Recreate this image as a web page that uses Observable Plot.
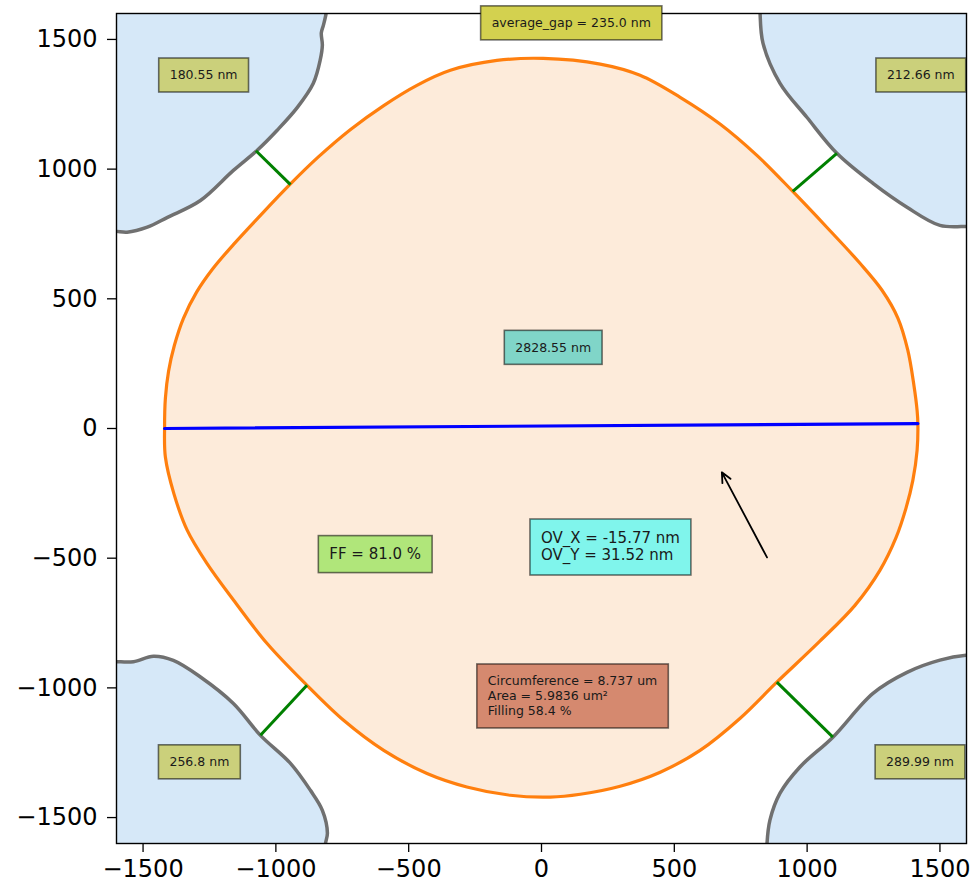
<!DOCTYPE html>
<html><head><meta charset="utf-8">
<script src="https://cdn.jsdelivr.net/npm/d3@7"></script>
<script src="https://cdn.jsdelivr.net/npm/@observablehq/plot@0.6"></script>
<style>body{margin:0;background:#fff} svg{display:block}</style>
</head><body><div id="chart"></div>
<script>
// ---- axes ----
const xDomain = [-1600, 1600];
const yDomain = [-1600, 1600];
const xTicks = [-1500, -1000, -500, 0, 500, 1000, 1500];
const yTicks = [-1500, -1000, -500, 0, 500, 1000, 1500];

// ---- central hole contour (nm) ----
const holeContour = [
  [6,1427],[-168,1419],[-343,1381],[-469,1323],[-594,1245],[-720,1152],[-840,1047],[-945,943],
  [-1058,822],[-1160,709],[-1239,614],[-1299,525],[-1348,425],[-1382,321],[-1404,221],[-1416,116],
  [-1419,5],[-1416,-110],[-1384,-251],[-1334,-392],[-1259,-521],[-1159,-662],[-1033,-829],
  [-883,-990],[-745,-1125],[-594,-1241],[-431,-1330],[-281,-1382],[-118,-1414],[33,-1421],
  [146,-1410],[296,-1379],[447,-1325],[597,-1241],[748,-1117],[886,-978],[1048,-820],[1180,-682],
  [1274,-547],[1335,-420],[1372,-308],[1398,-200],[1414,-84],[1417,16],[1414,70],[1402,167],
  [1379,302],[1342,425],[1282,533],[1199,637],[1074,776],[946,914],[811,1053],[672,1174],
  [522,1277],[371,1362],[221,1405]
];

// ---- neighbouring corner cells (nm) ----
const cellTopLeft = [
  [-811,1620],[-811,1601],[-821,1555],[-829,1525],[-825,1478],[-833,1421],[-859,1331],[-919,1238],
  [-995,1150],[-1070,1073],[-1160,995],[-1284,879],[-1408,814],[-1484,776],[-1560,757],
  [-1600,760],[-1620,760]
];
const cellTopRight = [
  [823,1620],[823,1600],[834,1485],[898,1331],[999,1200],[1112,1061],[1248,945],[1376,853],
  [1500,783],[1600,779],[1620,779]
];
const cellBottomLeft = [
  [-1620,-899],[-1600,-899],[-1536,-899],[-1461,-878],[-1386,-894],[-1284,-958],[-1160,-1060],
  [-1058,-1183],[-945,-1291],[-870,-1395],[-825,-1472],[-806,-1560],[-813,-1599],[-813,-1620]
];
const cellBottomRight = [
  [1620,-874],[1600,-874],[1500,-893],[1376,-940],[1248,-1021],[1097,-1190],[973,-1305],
  [898,-1406],[860,-1510],[849,-1600],[849,-1620]
];

// ---- gap segments (cell edge -> hole edge) ----
const gapX1 = [-1075, 1112, -1058, 1097];
const gapY1 = [1071, 1061, -1183, -1190];
const gapX2 = [-945, 946, -883, 886];
const gapY2 = [940, 914, -990, -978];

// ---- diameter line ----
const diamX = [-1419, 1417];
const diamY = [0, 19];

// ---- overlay arrow ----
const arrowX1 = [849], arrowY1 = [-497], arrowX2 = [679], arrowY2 = [-169];

// ---- labels ----
const smallLabels = ["average_gap = 235.0 nm", "180.55 nm", "212.66 nm", "256.8 nm", "289.99 nm", "2828.55 nm"];
const smallX = [112, -1272, 1428, -1288, 1425, 44];
const smallY = [1562, 1361, 1361, -1287, -1287, 311];
const smallBox = ["#d3d14f", "#cbd07b", "#cbd07b", "#cbd07b", "#cbd07b", "#80d5c8"];

const ffLabel = ["FF = 81.0 %"];
const ffX = [-626], ffY = [-485], ffBox = ["#b0e67a"];

const ovLabel = ["OV_X = -15.77 nm\nOV_Y = 31.52 nm"];
const ovX = [-2], ovY = [-452], ovBox = ["#80f5ec"];

const circLabel = ["Circumference = 8.737 um\nArea = 5.9836 um²\nFilling 58.4 %"];
const circX = [-202], circY = [-1030], circBox = ["#d5896f"];

// ---- build ----
const outerCorner = (pts) => {
  const mx = d3.mean(pts, d => d[0]), my = d3.mean(pts, d => d[1]);
  return [Math.sign(mx) * 1800, Math.sign(my) * 1800];
};
const cells = [cellTopLeft, cellTopRight, cellBottomLeft, cellBottomRight];
const px = d => d[0], py = d => d[1];
const FONT = "DejaVu Sans";

const marks = [];
for (const c of cells) {
  marks.push(Plot.line(c.concat([outerCorner(c)]), {x: px, y: py, curve: "catmull-rom", fill: "#d6e8f8", stroke: "none", clip: true}));
}
marks.push(Plot.line(holeContour, {x: px, y: py, curve: "catmull-rom-closed", fill: "#fdebda", stroke: "none", clip: true}));
for (const c of cells) {
  marks.push(Plot.line(c, {x: px, y: py, curve: "catmull-rom", stroke: "#707070", strokeWidth: 3.5, clip: true}));
}
marks.push(Plot.line(holeContour, {x: px, y: py, curve: "catmull-rom-closed", stroke: "#ff7f0e", strokeWidth: 3.2, clip: true}));
marks.push(Plot.link(gapX1, {x1: gapX1, y1: gapY1, x2: gapX2, y2: gapY2, stroke: "#008000", strokeWidth: 3, strokeLinecap: "butt"}));
marks.push(Plot.line(diamX, {x: diamX, y: diamY, stroke: "#0000ff", strokeWidth: 3.2}));
marks.push(Plot.arrow(arrowX1, {x1: arrowX1, y1: arrowY1, x2: arrowX2, y2: arrowY2, stroke: "black", strokeWidth: 1.8, headLength: 9, headAngle: 50}));
marks.push(Plot.frame({stroke: "black", strokeWidth: 1.4}));
marks.push(Plot.text(smallLabels, {x: smallX, y: smallY, text: d => d, fontFamily: FONT, fontSize: 12.5, fill: "#1a1a1a"}));
marks.push(Plot.text(ffLabel, {x: ffX, y: ffY, text: d => d, fontFamily: FONT, fontSize: 15, fill: "#1a1a1a"}));
marks.push(Plot.text(ovLabel, {x: ovX, y: ovY, text: d => d, fontFamily: FONT, fontSize: 15, lineHeight: 1.2, textAnchor: "start", fill: "#1a1a1a"}));
marks.push(Plot.text(circLabel, {x: circX, y: circY, text: d => d, fontFamily: FONT, fontSize: 12.5, lineHeight: 1.2, textAnchor: "start", fill: "#1a1a1a"}));

const chart = Plot.plot({
  width: 975,
  height: 884,
  marginLeft: 116,
  marginRight: 9,
  marginTop: 13,
  marginBottom: 41,
  style: {fontFamily: FONT, fontSize: "24px", color: "black", background: "white"},
  x: {domain: xDomain, ticks: xTicks, tickFormat: d3.format("d"), tickSize: 9, tickPadding: 7, label: null},
  y: {domain: yDomain, ticks: yTicks, tickFormat: d3.format("d"), tickSize: 9, tickPadding: 10, label: null},
  marks
});
document.getElementById("chart").append(chart);

// draw label boxes behind each label text
const boxSets = [smallBox, ffBox, ovBox, circBox];
const groups = chart.querySelectorAll('g[aria-label="text"]');
groups.forEach((g, gi) => {
  const fills = boxSets[gi] || [];
  g.querySelectorAll(":scope > text").forEach((t, i) => {
    const b = t.getBBox();
    const padX = 11, padY = 9.5;
    const r = document.createElementNS("http://www.w3.org/2000/svg", "rect");
    r.setAttribute("x", b.x - padX);
    r.setAttribute("y", b.y - padY);
    r.setAttribute("width", b.width + 2 * padX);
    r.setAttribute("height", b.height + 2 * padY);
    r.setAttribute("fill", fills[i] || "#ccc");
    r.setAttribute("stroke", "rgba(0,0,0,0.55)");
    r.setAttribute("stroke-width", "1.6");
    const tr = t.getAttribute("transform");
    if (tr) r.setAttribute("transform", tr);
    g.insertBefore(r, t);
  });
});
// tick strokes slightly heavier
chart.querySelectorAll('g[aria-label$="tick"] path, g[aria-label$="tick"] line').forEach(p => p.setAttribute("stroke-width", "1.3"));
</script>
</body></html>
